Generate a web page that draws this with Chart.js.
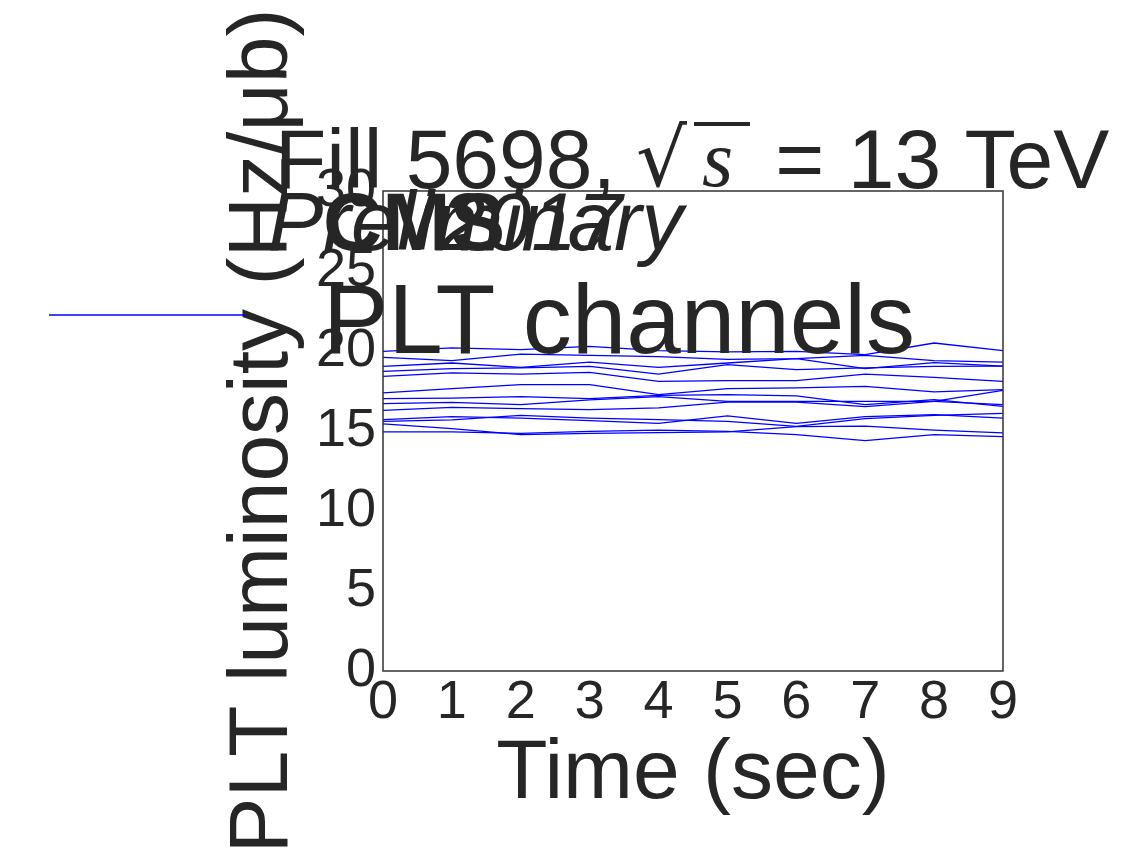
<!DOCTYPE html>
<html>
<head>
<meta charset="utf-8">
<script src="https://cdn.jsdelivr.net/npm/chart.js@4.4.1/dist/chart.umd.min.js"></script>
<style>
  body { margin: 0; background: #fff; }
  canvas { display: block; }
</style>
</head>
<body>
<canvas id="pltChart" width="1123" height="863"></canvas>
<script>
// time axis (sec)
var timeSec = [0, 1, 2, 3, 4, 5, 6, 7, 8, 9];
var yTicks = [0, 5, 10, 15, 20, 25, 30];

// luminosity per PLT channel (Hz/ub)
var ch1 = [19.98, 20.19, 20.08, 20.29, 20.02, 19.94, 19.98, 19.77, 20.5, 20.02];
var ch2 = [19.6, 19.4, 19.81, 19.73, 19.65, 19.48, 19.52, 19.73, 19.4, 19.31];
var ch3 = [19.04, 19.25, 18.98, 19.31, 18.98, 19.25, 19.52, 18.9, 19.27, 19.06];
var ch4 = [18.73, 18.9, 18.94, 19.04, 18.56, 19.15, 18.83, 18.94, 19.04, 19.06];
var ch5 = [18.42, 18.63, 18.56, 18.67, 18.1, 18.15, 18.15, 18.56, 18.35, 18.1];
var ch6 = [17.38, 17.65, 17.9, 17.9, 17.27, 17.65, 17.69, 17.79, 17.44, 17.58];
var ch7 = [17.02, 17.06, 17.15, 17.02, 17.23, 17.27, 17.19, 16.65, 16.96, 16.54];
var ch8 = [16.71, 16.79, 16.65, 16.94, 17.15, 16.85, 16.85, 16.85, 16.85, 16.65];
var ch9 = [16.29, 16.48, 16.4, 16.33, 16.44, 16.81, 16.81, 16.52, 16.85, 17.54];
var ch10 = [15.71, 15.9, 15.81, 15.65, 15.48, 15.94, 15.48, 15.9, 16.02, 15.81];
var ch11 = [15.6, 15.69, 15.98, 15.81, 15.71, 15.6, 15.29, 15.77, 15.98, 16.1];
var ch12 = [15.44, 15.15, 14.77, 14.85, 14.9, 14.94, 15.27, 15.31, 15.06, 14.88];
var ch13 = [14.94, 14.94, 14.85, 14.98, 15.06, 14.98, 14.77, 14.4, 14.77, 14.65];

var channels = [ch1, ch2, ch3, ch4, ch5, ch6, ch7, ch8, ch9, ch10, ch11, ch12, ch13];

var textColor = "#262626";
var fontFam = "'Liberation Sans', Arial, sans-serif";

var datasets = [];
for (var i = 0; i < channels.length; i++) {
	var pts = [];
	for (var j = 0; j < timeSec.length; j++) {
		pts.push({ x: timeSec[j], y: channels[i][j] });
	}
	datasets.push({
		label: i == 0 ? "PLT channels" : "",
		data: pts,
		borderColor: "#0000ff",
		borderWidth: 1.3,
		pointRadius: 0,
		fill: false,
		tension: 0
	});
}

// frame, title, CMS labels and the single legend entry
var decorations = {
	id: "decorations",
	afterDraw: function(chart) {
		var ctx = chart.ctx;
		var a = chart.chartArea;
		ctx.save();
		ctx.strokeStyle = "#333333";
		ctx.lineWidth = 1.5;
		ctx.strokeRect(a.left, a.top, a.right - a.left, a.bottom - a.top);

		ctx.fillStyle = textColor;
		ctx.textAlign = "left";
		ctx.textBaseline = "alphabetic";

		// title: Fill 5698, sqrt(s) = 13 TeV
		ctx.font = "84px " + fontFam;
		ctx.fillText("Fill 5698,", 275, 188);
		ctx.font = "80px 'DejaVu Serif', serif";
		ctx.fillText("\u221A", 636, 186);
		ctx.fillRect(694, 122, 56, 4);
		ctx.font = "italic 80px 'Liberation Serif', serif";
		ctx.fillText("s", 702, 186);
		ctx.font = "84px " + fontFam;
		ctx.fillText(" = 13 TeV", 752, 188);

		// CMS / 2017 / Preliminary
		ctx.font = "italic 83px " + fontFam;
		ctx.fillText("Preliminary", 268, 250);
		ctx.font = "bold 82px " + fontFam;
		ctx.fillText("CMS", 323, 250);
		ctx.font = "italic 82px " + fontFam;
		ctx.fillText("2017", 440, 250);

		// legend
		ctx.strokeStyle = "#0000ff";
		ctx.lineWidth = 1.3;
		ctx.beginPath();
		ctx.moveTo(49, 315);
		ctx.lineTo(245, 315);
		ctx.stroke();
		ctx.font = "98px " + fontFam;
		ctx.fillText(datasets[0].label, 323, 353);
		ctx.restore();
	}
};

new Chart("pltChart", {
	type: "line",
	data: { datasets: datasets },
	options: {
		responsive: false,
		animation: false,
		layout: { padding: { top: 191, right: 120, left: 0, bottom: 0 } },
		plugins: {
			legend: { display: false },
			title: { display: false },
			tooltip: { enabled: false }
		},
		scales: {
			x: {
				type: "linear",
				min: 0,
				max: 9,
				afterFit: function(s) { s.height = 192; },
				afterBuildTicks: function(s) {
					s.ticks = timeSec.map(function(v) { return { value: v }; });
				},
				grid: { display: false, drawTicks: false },
				border: { display: false },
				ticks: {
					autoSkip: false,
					maxRotation: 0,
					padding: 0,
					color: textColor,
					font: { family: fontFam, size: 54 }
				},
				title: {
					display: true,
					text: "Time (sec)",
					color: textColor,
					font: { family: fontFam, size: 84 },
					padding: { top: 0, bottom: 38 }
				}
			},
			y: {
				min: 0,
				max: 30,
				afterFit: function(s) { s.width = 383; },
				afterBuildTicks: function(s) {
					s.ticks = yTicks.map(function(v) { return { value: v }; });
				},
				grid: { display: false, drawTicks: false },
				border: { display: false },
				ticks: {
					autoSkip: false,
					padding: 7,
					color: textColor,
					font: { family: fontFam, size: 54 }
				},
				title: {
					display: true,
					text: "PLT luminosity (Hz/\u03BCb)",
					color: textColor,
					font: { family: fontFam, size: 84 },
					padding: { top: 213, bottom: 0 }
				}
			}
		}
	},
	plugins: [decorations]
});
</script>
</body>
</html>
